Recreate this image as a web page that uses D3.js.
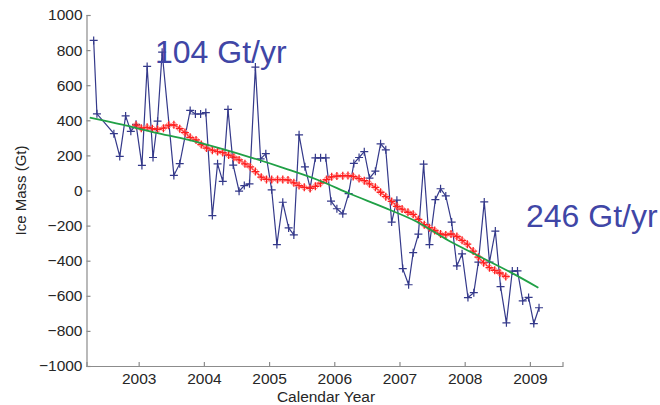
<!DOCTYPE html>
<html>
<head>
<meta charset="utf-8">
<script src="https://cdn.jsdelivr.net/npm/d3@7"></script>
<style>
    body { margin: 0; background: #fff; }
    svg { display: block; font-family: "Liberation Sans", Arial, sans-serif; }
</style>
</head>
<body>
<div class="forSvg"></div>
<script>
// -DATA-
// monthly ice mass (blue +)
const blueYears = [2002.31, 2002.36, 2002.62, 2002.71, 2002.80, 2002.88, 2002.96, 2003.05, 2003.13, 2003.22,
    2003.29, 2003.36, 2003.54, 2003.63, 2003.79, 2003.87, 2003.95, 2004.03, 2004.13, 2004.21,
    2004.29, 2004.37, 2004.45, 2004.54, 2004.62, 2004.70, 2004.79, 2004.87, 2004.95, 2005.04,
    2005.12, 2005.21, 2005.30, 2005.38, 2005.46, 2005.55, 2005.63, 2005.71, 2005.79, 2005.87,
    2005.95, 2006.04, 2006.13, 2006.22, 2006.30, 2006.38, 2006.46, 2006.54, 2006.63, 2006.71,
    2006.79, 2006.88, 2006.96, 2007.05, 2007.14, 2007.21, 2007.29, 2007.37, 2007.46, 2007.55,
    2007.63, 2007.71, 2007.80, 2007.88, 2007.96, 2008.05, 2008.14, 2008.21, 2008.30, 2008.38,
    2008.47, 2008.55, 2008.64, 2008.73, 2008.81, 2008.89, 2008.98, 2009.06, 2009.14];
const blueMass = [855, 437, 324, 194, 425, 337, 377, 143, 707, 188,
    395, 788, 86, 153, 456, 436, 436, 444, -143, 152,
    52, 462, 145, -4, 28, 38, 703, 180, 210, 4,
    -308, -67, -213, -253, 317, 135, 15, 186, 186, 186,
    -61, -104, -133, -18, 154, 188, 221, 70, 110, 266,
    232, -180, -55, -445, -537, -354, -249, 150, -308, -52,
    10, -31, -180, -430, -361, -610, -582, -408, -65, -408,
    -231, -548, -754, -459, -458, -629, -609, -758, -668];

// smoothed series (red +)
const redYears = [2002.96, 2003.04, 2003.13, 2003.21, 2003.29, 2003.38, 2003.46, 2003.54, 2003.63, 2003.71,
    2003.79, 2003.88, 2003.96, 2004.04, 2004.13, 2004.21, 2004.29, 2004.38, 2004.46, 2004.54,
    2004.63, 2004.71, 2004.79, 2004.88, 2004.96, 2005.04, 2005.13, 2005.21, 2005.29, 2005.38,
    2005.46, 2005.54, 2005.63, 2005.71, 2005.79, 2005.88, 2005.96, 2006.04, 2006.13, 2006.21,
    2006.29, 2006.38, 2006.46, 2006.54, 2006.63, 2006.71, 2006.79, 2006.88, 2006.96, 2007.04,
    2007.13, 2007.21, 2007.29, 2007.38, 2007.46, 2007.54, 2007.63, 2007.71, 2007.79, 2007.88,
    2007.96, 2008.04, 2008.13, 2008.21, 2008.29, 2008.38, 2008.46, 2008.54, 2008.63];
const redMass = [372, 355, 360, 352, 348, 355, 372, 374, 352, 330,
    303, 288, 262, 242, 230, 222, 216, 202, 190, 174,
    152, 135, 108, 76, 63, 62, 62, 62, 60, 44,
    28, 18, 12, 24, 42, 62, 78, 82, 84, 85,
    80, 68, 56, 38, 18, -10, -35, -62, -90, -106,
    -124, -136, -165, -195, -212, -228, -248, -253, -248, -262,
    -284, -306, -345, -380, -412, -440, -455, -470, -490];

// fitted trend (green)
const fitYears = [2002.25, 2002.75, 2003.25, 2003.75, 2004.25, 2004.75, 2005.25, 2005.75, 2006.25, 2006.75,
    2007.25, 2007.75, 2008.25, 2008.75, 2009.13];
const fitMass = [415, 375, 330, 290, 240, 185, 125, 60, -20, -95,
    -175, -285, -380, -475, -554];

// tick labels
const xTicks = [2003, 2004, 2005, 2006, 2007, 2008, 2009];
const yTicks = [-1000, -800, -600, -400, -200, 0, 200, 400, 600, 800, 1000];

// -CREATE VARIABLES-
const svg_w = 660;
const svg_h = 405;
const plot = { left: 86.5, right: 562.5, top: 15, bottom: 366 };

const axisColor = "#8c8c8c";
const blueColor = "#34398a";
const redColor = "#ff2020";
const greenColor = "#20a046";
const noteColor = "#4046a6";

// scales
const x = d3.scaleLinear()
            .domain([2002.2, 2009.5])
            .range([plot.left, plot.right]);

const y = d3.scaleLinear()
            .domain([-1000, 1000])
            .range([plot.bottom, plot.top]);

// create svg obj
const svg = d3.select(".forSvg")
                .append("svg")
                .attr("width", svg_w)
                .attr("height", svg_h);

// -AXES-
const xAxis = d3.axisBottom(x)
                .tickValues(xTicks)
                .tickFormat(d3.format("d"))
                .tickSize(-4)
                .tickPadding(7);

const yAxis = d3.axisLeft(y)
                .tickValues(yTicks)
                .tickFormat(d3.format("d"))
                .tickSize(-4)
                .tickPadding(4);

const gx = svg.append("g")
                .attr("transform", "translate(0," + plot.bottom + ")")
                .call(xAxis);

const gy = svg.append("g")
                .attr("transform", "translate(" + plot.left + ",0)")
                .call(yAxis);

[gx, gy].forEach(g => {
    g.select(".domain").attr("stroke", axisColor).attr("stroke-width", 1.2);
    g.selectAll(".tick line").attr("stroke", axisColor).attr("stroke-width", 1.2);
    g.selectAll(".tick text")
        .attr("fill", "#262626")
        .attr("font-size", "15.5px")
        .attr("font-family", "'Liberation Sans', Arial, sans-serif");
});

// axis titles
svg.append("text")
    .attr("x", 326)
    .attr("y", 402)
    .attr("text-anchor", "middle")
    .attr("font-size", "15.5px")
    .attr("fill", "#262626")
    .text("Calendar Year");

svg.append("text")
    .attr("transform", "translate(26," + y(0) + ") rotate(-90)")
    .attr("text-anchor", "middle")
    .attr("font-size", "15px")
    .attr("fill", "#262626")
    .text("Ice Mass (Gt)");

// -SERIES-
const blueData = blueYears.map((d, i) => ({ year: d, mass: blueMass[i] }));
const redData = redYears.map((d, i) => ({ year: d, mass: redMass[i] }));
const fitData = fitYears.map((d, i) => ({ year: d, mass: fitMass[i] }));

const line = d3.line()
                .x(d => x(d.year))
                .y(d => y(d.mass));

const plus = "M-4,0H4M0,-4V4";

// blue monthly series
svg.append("path")
    .datum(blueData)
    .attr("d", line)
    .attr("fill", "none")
    .attr("stroke", blueColor)
    .attr("stroke-width", 1.2);

svg.append("g")
    .selectAll("path")
    .data(blueData)
    .enter()
    .append("path")
    .attr("d", plus)
    .attr("transform", d => "translate(" + x(d.year) + "," + y(d.mass) + ")")
    .attr("stroke", blueColor)
    .attr("stroke-width", 1.2);

// red smoothed series
svg.append("path")
    .datum(redData)
    .attr("d", line)
    .attr("fill", "none")
    .attr("stroke", redColor)
    .attr("stroke-width", 1.5);

svg.append("g")
    .selectAll("circle")
    .data(redData)
    .enter()
    .append("circle")
    .attr("cx", d => x(d.year))
    .attr("cy", d => y(d.mass))
    .attr("r", 2.6)
    .attr("fill", "none")
    .attr("stroke", "#ff8c8c")
    .attr("stroke-width", 1);

svg.append("g")
    .selectAll("path")
    .data(redData)
    .enter()
    .append("path")
    .attr("d", plus)
    .attr("transform", d => "translate(" + x(d.year) + "," + y(d.mass) + ")")
    .attr("stroke", redColor)
    .attr("stroke-width", 1.3);

// green trend
svg.append("path")
    .datum(fitData)
    .attr("d", line.curve(d3.curveMonotoneX))
    .attr("fill", "none")
    .attr("stroke", greenColor)
    .attr("stroke-width", 1.8);

// -ANNOTATIONS-
svg.append("text")
    .attr("x", 155)
    .attr("y", 63)
    .attr("font-size", "32px")
    .attr("fill", noteColor)
    .text("104 Gt/yr");

svg.append("text")
    .attr("x", 526)
    .attr("y", 227)
    .attr("font-size", "32px")
    .attr("fill", noteColor)
    .text("246 Gt/yr");
</script>
</body>
</html>
